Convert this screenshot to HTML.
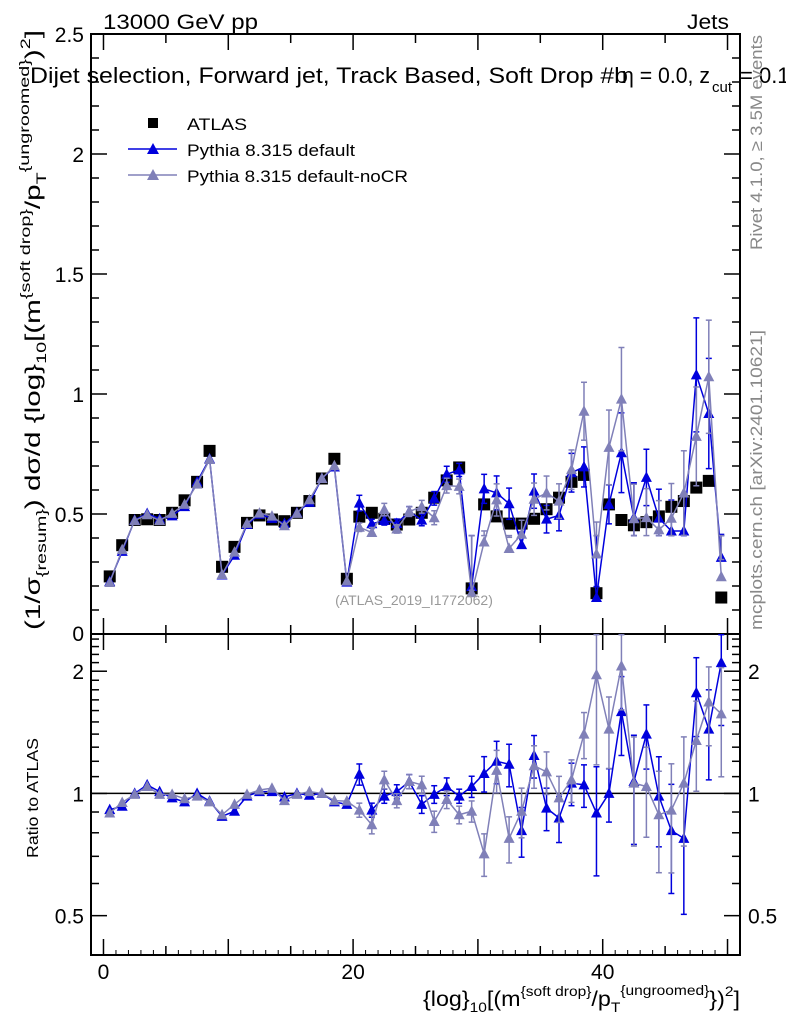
<!DOCTYPE html>
<html><head><meta charset="utf-8"><style>
html,body{margin:0;padding:0;background:#fff;}
svg{display:block;font-family:"Liberation Sans",sans-serif;}
</style></head><body>
<svg id="chart" width="786" height="1024" viewBox="0 0 786 1024" xmlns="http://www.w3.org/2000/svg">
<text x="103" y="29" font-size="21" textLength="155" lengthAdjust="spacingAndGlyphs">13000 GeV pp</text>
<text x="687" y="29" font-size="21" textLength="42" lengthAdjust="spacingAndGlyphs">Jets</text>
<g id="plot"></g>
<g>
<text x="30" y="83" font-size="22" textLength="598" lengthAdjust="spacingAndGlyphs">Dijet selection, Forward jet, Track Based, Soft Drop #b</text>
<text x="622" y="83" font-size="22" textLength="88" lengthAdjust="spacingAndGlyphs">η = 0.0, z</text>
<text x="712" y="92" font-size="15">cut</text>
<text x="740" y="83" font-size="22"> = 0.1</text>
</g>
<text transform="translate(762,250) rotate(-90)" font-size="17" fill="#888" textLength="215" lengthAdjust="spacingAndGlyphs">Rivet 4.1.0, ≥ 3.5M events</text>
<text transform="translate(762,630) rotate(-90)" font-size="17" fill="#888" textLength="300" lengthAdjust="spacingAndGlyphs">mcplots.cern.ch [arXiv:2401.10621]</text>
<text x="414" y="605" font-size="14" fill="#999" text-anchor="middle">(ATLAS_2019_I1772062)</text>
<text transform="translate(40,630) rotate(-90)" font-size="21" textLength="600" lengthAdjust="spacingAndGlyphs">(1/σ<tspan font-size="14" dy="6">{resum}</tspan><tspan dy="-6">) dσ/d {log}</tspan><tspan font-size="14" dy="6">10</tspan><tspan dy="-6">[(m</tspan><tspan font-size="14" dy="-10">{soft drop}</tspan><tspan dy="10">/p</tspan><tspan font-size="14" dy="6">T</tspan><tspan font-size="14" dy="-17">{ungroomed}</tspan><tspan dy="11">)</tspan><tspan font-size="14" dy="-10">2</tspan><tspan dy="10">]</tspan></text>
<text transform="translate(38,858) rotate(-90)" font-size="16" textLength="120" lengthAdjust="spacingAndGlyphs">Ratio to ATLAS</text>
<text x="423" y="1006" font-size="21" textLength="317" lengthAdjust="spacingAndGlyphs">{log}<tspan font-size="14" dy="6">10</tspan><tspan dy="-6">[(m</tspan><tspan font-size="14" dy="-10">{soft drop}</tspan><tspan dy="10">/p</tspan><tspan font-size="14" dy="6">T</tspan><tspan font-size="14" dy="-17">{ungroomed}</tspan><tspan dy="11">})</tspan><tspan font-size="14" dy="-10">2</tspan><tspan dy="10">]</tspan></text>
<g>
<rect x="148" y="118" width="10" height="10" fill="#000"/>
<text x="187" y="130" font-size="17" textLength="60" lengthAdjust="spacingAndGlyphs">ATLAS</text>
<line x1="128" y1="149" x2="177" y2="149" stroke="#0000dd" stroke-width="1.5"/>
<polygon points="153,143 147,154 159,154" fill="#0000dd"/>
<text x="187" y="156" font-size="17" textLength="168" lengthAdjust="spacingAndGlyphs">Pythia 8.315 default</text>
<line x1="128" y1="175" x2="177" y2="175" stroke="#8080b8" stroke-width="1.5"/>
<polygon points="153,169 147,180 159,180" fill="#8080b8"/>
<text x="187" y="182" font-size="17" textLength="221" lengthAdjust="spacingAndGlyphs">Pythia 8.315 default-noCR</text>
</g>
</svg>
<script>
const bins = Array.from({length:50},(_, i)=>i+0.5);
const dataVals = [0.24,0.37,0.475,0.478,0.475,0.505,0.557,0.634,0.763,0.28,0.363,0.463,0.494,0.477,0.47,0.505,0.554,0.648,0.73,0.23,
 0.489,0.505,0.48,0.456,0.477,0.505,0.568,0.64,0.694,0.19,0.54,0.49,0.46,0.46,0.48,0.52,0.568,0.634,0.663,0.17,
 0.54,0.475,0.453,0.466,0.49,0.53,0.554,0.61,0.638,0.152];
const ratioDefault = [0.912,0.93,1.0,1.05,1.01,0.975,0.953,1.0,0.957,0.878,0.904,0.985,1.01,1.01,0.98,1.0,0.99,1.0,0.953,0.94,
 1.115,0.91,0.985,1.01,1.07,0.94,0.995,1.04,0.985,1.04,1.12,1.2,1.18,0.81,1.24,0.92,0.87,1.06,1.05,0.895,
 1.0,1.59,1.07,1.4,0.985,0.81,0.775,1.77,1.44,2.1];
const ratioNoCR = [0.895,0.95,0.995,1.04,0.995,0.995,0.97,0.985,0.953,0.886,0.94,0.995,1.02,1.03,0.96,0.995,1.01,1.0,0.96,0.957,
 0.91,0.837,1.08,0.96,1.07,1.05,0.853,0.966,0.886,0.904,0.71,1.14,0.775,0.904,1.17,1.13,0.975,1.08,1.4,1.96,
 1.44,2.06,1.06,1.04,0.886,0.91,1.06,1.35,1.68,1.57];
const relErrDefault = [0,0,0,0,0,0,0,0,0,0,0,0,0,0,0,0,0,0,0,0,
 0.06,0.04,0.04,0.04,0.04,0.05,0.05,0.05,0.04,0.06,0.1,0.12,0.12,0.14,0.12,0.12,0.13,0.12,0.12,0.3,
 0.15,0.22,0.3,0.18,0.25,0.3,0.35,0.22,0.25,0.3];
const relErrNoCR = [0,0,0,0,0,0,0,0,0,0,0,0,0,0,0,0,0,0,0,0,
 0.04,0.05,0.05,0.04,0.04,0.05,0.06,0.05,0.05,0.06,0.12,0.12,0.13,0.14,0.12,0.12,0.13,0.12,0.13,0.4,
 0.2,0.22,0.3,0.25,0.28,0.3,0.3,0.25,0.22,0.3];
const mainTicks = [0,0.5,1,1.5,2,2.5];
const mainTickLabels = ["0","0.5","1","1.5","2","2.5"];
const ratioTicks = [0.5,1,2];
const ratioTickLabels = ["0.5","1","2"];
const xTicks = [0,20,40];
const xTickLabels = ["0","20","40"];

const NS="http://www.w3.org/2000/svg";
const g=document.getElementById('plot');
const L=91,R=740,MT=34,MB=634,RT=634,RB=955;
const xS=v=>L+(v+1)/52*(R-L);
const yM=v=>MB-(v/2.5)*(MB-MT);
const lr0=Math.log(0.40),lr1=Math.log(2.47);
const yR=v=>RB-(Math.log(v)-lr0)/(lr1-lr0)*(RB-RT);
function mk(tag,attrs){const e=document.createElementNS(NS,tag);for(const k in attrs)e.setAttribute(k,attrs[k]);g.appendChild(e);return e;}
function ln(x1,y1,x2,y2,c,w){return mk('line',{x1,y1,x2,y2,stroke:c,'stroke-width':w});}

let e=mk('rect',{x:L,y:MT,width:R-L,height:MB-MT,fill:'none',stroke:'#000','stroke-width':2});


e=mk('rect',{x:L,y:RT,width:R-L,height:RB-RT,fill:'none',stroke:'#000','stroke-width':2});



for(let v=0;v<=50;v+=5){const x=xS(v);const len=(v%10===0)?16:9;
 ln(x,MB,x,MB-len,'#000',1.5);ln(x,MT,x,MT+len,'#000',1.5);
 ln(x,RB,x,RB-len,'#000',1.5);ln(x,RT,x,RT+len,'#000',1.5);}
for(let v=-1;v<=51;v++){const x=xS(v);ln(x,RB,x,RB-5,'#000',1);}
xTicks.forEach((v,i)=>{const t=mk('text',{x:xS(v),y:979,'font-size':21,'text-anchor':'middle'});t.textContent=xTickLabels[i];
 
 });
for(let k=0;k<=25;k++){const v=k/10,y=yM(v),len=(k%5===0)?16:8;ln(L,y,L+len,y,'#000',1.5);ln(R,y,R-len,y,'#000',1.5);}
mainTicks.forEach((v,i)=>{const t=mk('text',{x:L-7,y:Math.min(yM(v)+8,641),'font-size':21,'text-anchor':'end'});t.textContent=mainTickLabels[i];
 
 });
[0.4,0.5,0.6,0.7,0.8,0.9,1,1.1,1.2,1.3,1.4,1.5,1.6,1.7,1.8,1.9,2,2.1,2.2,2.3,2.4].forEach(v=>{const y=yR(v);const maj=ratioTicks.includes(v);const len=maj?16:8;ln(L,y,L+len,y,'#000',1.5);ln(R,y,R-len,y,'#000',1.5);});
ratioTicks.forEach((v,i)=>{let t=mk('text',{x:L-7,y:yR(v)+8,'font-size':21,'text-anchor':'end'});t.textContent=ratioTickLabels[i];
 
 
 t=mk('text',{x:R+8,y:yR(v)+8,'font-size':21});t.textContent=ratioTickLabels[i];
 
 });
e=ln(L,yR(1),R,yR(1),'#000',1.5);



function tri(x,y,c){return mk('polygon',{points:`${x},${y-6} ${x-5.5},${y+4.5} ${x+5.5},${y+4.5}`,fill:c});}
function series(vals,errs,ys,c,name,inRatio){
 let pts=vals.map((v,i)=>xS(bins[i])+','+ys(v)).join(' ');
 const pl=mk('polyline',{points:pts,fill:'none',stroke:c,'stroke-width':1.5});
 
 
 vals.forEach((v,i)=>{const x=xS(bins[i]);
  if(errs[i]>0){const lo=Math.max(v*(1-errs[i]),0.41),hi=Math.min(v*(1+errs[i]),inRatio?2.46:2.49);
   ln(x,ys(lo),x,ys(hi),c,1.5);ln(x-3,ys(lo),x+3,ys(lo),c,1.5);ln(x-3,ys(hi),x+3,ys(hi),c,1.5);}
  const t=tri(x,ys(v),c);
  
  });
}
const defVals=dataVals.map((d,i)=>d*ratioDefault[i]);
const nocrVals=dataVals.map((d,i)=>d*ratioNoCR[i]);
dataVals.forEach((v,i)=>{const r=mk('rect',{x:xS(bins[i])-6,y:yM(v)-6,width:12,height:12,fill:'#000'});
 
 });
series(defVals,relErrDefault,yM,'#0000dd','default',false);
series(nocrVals,relErrNoCR,yM,'#8080b8','nocr',false);
series(ratioDefault,relErrDefault,yR,'#0000dd','ratio-default',true);
series(ratioNoCR,relErrNoCR,yR,'#8080b8','ratio-nocr',true);
</script>
</body></html>
